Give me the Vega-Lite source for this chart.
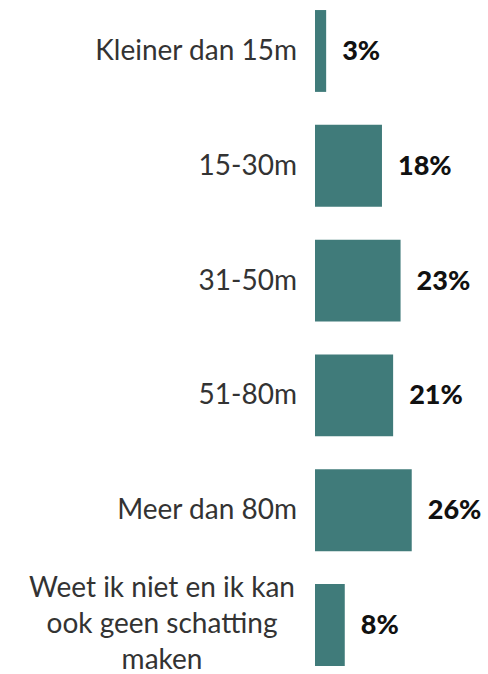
{
  "$schema": "https://vega.github.io/schema/vega-lite/v6.json",
  "autosize": "none",
  "width": 173,
  "height": 672,
  "padding": {"left": 315, "top": 2, "right": 0, "bottom": 0},
  "background": "white",
  "config": {"view": {"stroke": null}, "font": "Lato"},
  "data": {
    "values": [
      {"cat": "Kleiner dan 15m", "label": "Kleiner dan 15m", "value": 0.03, "multi": false},
      {"cat": "15-30m", "label": "15-30m", "value": 0.18, "multi": false},
      {"cat": "31-50m", "label": "31-50m", "value": 0.23, "multi": false},
      {"cat": "51-80m", "label": "51-80m", "value": 0.21, "multi": false},
      {"cat": "Meer dan 80m", "label": "Meer dan 80m", "value": 0.26, "multi": false},
      {"cat": "Weet ik niet en ik kan ook geen schatting maken", "label": ["Weet ik niet en ik kan", "ook geen schatting", "maken"], "value": 0.08, "multi": true}
    ]
  },
  "encoding": {
    "y": {
      "field": "cat",
      "type": "nominal",
      "sort": null,
      "axis": null,
      "scale": {"paddingInner": 0.287, "paddingOuter": 0.07}
    }
  },
  "layer": [
    {
      "mark": {"type": "bar", "color": "#407b7a"},
      "encoding": {
        "x": {"field": "value", "type": "quantitative", "axis": null, "scale": {"domain": [0, 0.465], "nice": false, "zero": true}}
      }
    },
    {
      "mark": {"type": "text", "align": "left", "baseline": "middle", "dx": 16, "dy": 1, "fontSize": 27, "fontWeight": 900, "color": "#111111"},
      "encoding": {
        "x": {"field": "value", "type": "quantitative"},
        "text": {"field": "value", "type": "quantitative", "format": ".0%"}
      }
    },
    {
      "transform": [{"filter": "!datum.multi"}],
      "mark": {"type": "text", "align": "right", "baseline": "middle", "dx": -18, "dy": 1, "fontSize": 28, "color": "#333333"},
      "encoding": {
        "x": {"datum": 0, "type": "quantitative"},
        "text": {"field": "label"}
      }
    },
    {
      "transform": [{"filter": "datum.multi"}],
      "mark": {"type": "text", "align": "center", "baseline": "middle", "dx": -153, "dy": -36, "fontSize": 28, "lineHeight": 36, "color": "#333333"},
      "encoding": {
        "x": {"datum": 0, "type": "quantitative"},
        "text": {"field": "label"}
      }
    }
  ]
}
